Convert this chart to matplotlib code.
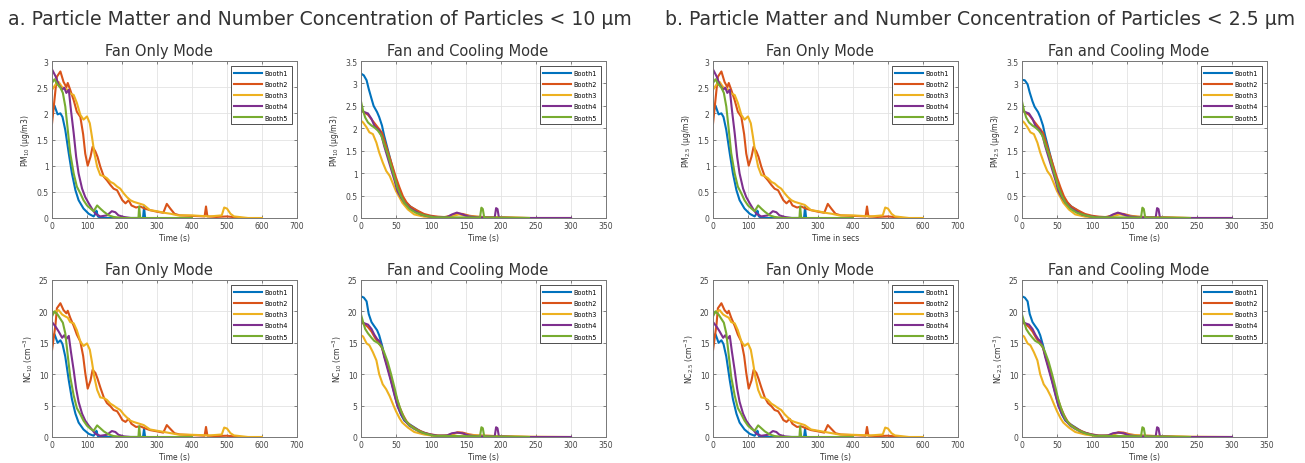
import numpy as np
import matplotlib
matplotlib.use('Agg')
import matplotlib.pyplot as plt
from matplotlib.ticker import FuncFormatter, MultipleLocator

# ===================== data =====================
booths = ['Booth1', 'Booth2', 'Booth3', 'Booth4', 'Booth5']
colors = ['#0072BD', '#D95319', '#EDB120', '#7E2F8E', '#77AC30']

# ---- Fan Only Mode (time in s) ----
fo_t1 = [0, 7, 16, 24, 30, 38, 48, 57, 67, 76, 90, 105, 119, 124, 127, 131, 140, 200, 260, 263, 266, 270]
fo_pm1 = [2.0, 2.15, 1.98, 2.0, 1.93, 1.68, 1.23, 0.85, 0.53, 0.34, 0.18, 0.08, 0.03, 0.08, 0.14, 0.03, 0.0, 0.0, 0.0, 0.21, 0.0, 0.0]
fo_nc1 = [15.3, 16.4, 15.0, 15.4, 14.8, 12.8, 9.0, 6.0, 3.7, 2.3, 1.2, 0.5, 0.2, 0.6, 1.0, 0.15, 0.0, 0.0, 0.0, 1.3, 0.0, 0.0]

fo_t2 = [0, 10, 14, 24, 33, 41, 45, 52, 62, 71, 81, 89, 95, 102, 110, 116, 124, 130, 138, 148,
         157, 167, 176, 186, 193, 201, 210, 219, 227, 240, 252, 265, 280, 300, 318, 328, 338, 350, 365, 400,
         436, 440, 444, 470, 500, 530, 540]
fo_pm2 = [1.8, 2.45, 2.7, 2.8, 2.6, 2.5, 2.58, 2.45, 2.25, 2.03, 1.93, 1.6, 1.23, 1.0, 1.17, 1.36, 1.27, 1.17, 0.98, 0.79,
          0.72, 0.63, 0.56, 0.53, 0.44, 0.34, 0.28, 0.34, 0.24, 0.2, 0.22, 0.18, 0.15, 0.12, 0.1, 0.27, 0.18, 0.08, 0.05, 0.04,
          0.03, 0.22, 0.03, 0.02, 0.03, 0.01, 0.0]
fo_nc2 = [13.8, 17.9, 20.5, 21.3, 20.2, 19.7, 20.1, 19.0, 17.7, 16.3, 15.2, 12.9, 10.2, 7.7, 9.0, 10.7, 10.2, 9.3, 7.9, 6.3,
          5.4, 4.9, 4.3, 4.1, 3.5, 2.7, 2.4, 2.9, 2.1, 1.6, 1.7, 1.4, 1.1, 0.9, 0.7, 1.9, 1.3, 0.6, 0.4, 0.3,
          0.2, 1.6, 0.2, 0.15, 0.2, 0.05, 0.0]

fo_t3 = [0, 10, 19, 29, 38, 45, 52, 62, 71, 81, 90, 100, 108, 114, 121, 129, 138, 148, 157, 167,
         176, 186, 195, 205, 214, 224, 233, 262, 280, 300, 320, 340, 360, 400, 450, 485, 492, 500, 510, 520,
         560, 600]
fo_pm3 = [2.45, 2.55, 2.6, 2.5, 2.47, 2.45, 2.38, 2.35, 2.2, 1.97, 1.88, 1.94, 1.81, 1.56, 1.24, 0.98, 0.82, 0.8, 0.76, 0.69,
          0.66, 0.6, 0.56, 0.47, 0.4, 0.34, 0.31, 0.25, 0.15, 0.13, 0.1, 0.08, 0.05, 0.05, 0.03, 0.05, 0.2, 0.18, 0.08, 0.03,
          0.0, 0.0]
fo_nc3 = [19.5, 20.0, 20.2, 19.5, 19.2, 19.0, 18.3, 18.1, 17.0, 15.2, 14.5, 14.9, 13.9, 12.0, 9.5, 7.5, 6.3, 6.2, 5.9, 5.3,
          5.0, 4.6, 4.3, 3.6, 3.1, 2.6, 2.4, 1.9, 1.2, 1.0, 0.8, 0.6, 0.4, 0.35, 0.25, 0.4, 1.5, 1.35, 0.6, 0.25,
          0.0, 0.0]

fo_t4 = [0, 10, 19, 29, 35, 41, 48, 54, 62, 69, 76, 86, 95, 105, 114, 124, 138, 157, 171, 181, 190, 205, 225, 250]
fo_pm4 = [2.84, 2.71, 2.55, 2.45, 2.49, 2.39, 2.45, 2.07, 1.62, 1.17, 0.85, 0.56, 0.4, 0.28, 0.18, 0.08, 0.03, 0.05, 0.13, 0.11,
          0.05, 0.02, 0.0, 0.0]
fo_nc4 = [18.3, 17.6, 16.8, 15.8, 16.2, 15.6, 16.1, 13.6, 10.6, 7.7, 5.6, 3.7, 2.6, 1.8, 1.2, 0.5, 0.2, 0.35, 0.95, 0.8,
          0.35, 0.1, 0.0, 0.0]

fo_t5 = [0, 7, 16, 24, 31, 38, 45, 52, 62, 71, 81, 90, 100, 110, 119, 129, 138, 148, 162, 176, 200, 247, 249, 252, 400]
fo_pm5 = [2.58, 2.65, 2.55, 2.49, 2.39, 2.13, 1.69, 1.24, 0.85, 0.6, 0.47, 0.34, 0.24, 0.18, 0.13, 0.24, 0.18, 0.12, 0.05, 0.02,
          0.0, 0.0, 0.22, 0.0, 0.0]
fo_nc5 = [19.2, 20.0, 19.5, 18.8, 18.2, 16.5, 13.0, 9.6, 6.6, 4.6, 3.6, 2.6, 1.8, 1.3, 1.0, 1.85, 1.4, 0.9, 0.4, 0.15,
          0.0, 0.0, 1.7, 0.0, 0.0]

# ---- Fan and Cooling Mode ----
fc_t1 = [0, 4, 8, 11, 15, 18, 23, 26, 30, 33, 38, 43, 48, 52, 57, 62, 67, 71, 78, 85, 92, 100, 109, 120, 200]
fc_pm1 = [3.22, 3.18, 3.07, 2.88, 2.66, 2.5, 2.36, 2.25, 2.06, 1.84, 1.54, 1.24, 0.94, 0.72, 0.53, 0.38, 0.31, 0.25, 0.18, 0.1,
          0.06, 0.03, 0.01, 0.0, 0.0]
fc_pm25_1 = [3.08, 3.07, 2.98, 2.8, 2.6, 2.48, 2.36, 2.25, 2.06, 1.84, 1.54, 1.24, 0.94, 0.72, 0.53, 0.38, 0.31, 0.25, 0.18, 0.1,
             0.06, 0.03, 0.01, 0.0, 0.0]
fc_nc1 = [22.4, 22.2, 21.6, 19.6, 18.3, 17.8, 17.0, 16.2, 14.6, 13.2, 11.2, 9.0, 6.8, 5.0, 3.6, 2.6, 2.2, 1.9, 1.4, 0.9,
          0.6, 0.3, 0.1, 0.0, 0.0]

fc_t2 = [0, 5, 10, 15, 20, 25, 30, 35, 40, 45, 50, 55, 60, 65, 70, 80, 90, 100, 110, 120,
         130, 138, 145, 155, 165, 180, 200, 240]
fc_pm2 = [2.4, 2.35, 2.3, 2.2, 2.1, 2.0, 1.9, 1.65, 1.4, 1.15, 0.9, 0.68, 0.48, 0.35, 0.26, 0.17, 0.09, 0.05, 0.03, 0.02,
          0.06, 0.1, 0.09, 0.05, 0.03, 0.02, 0.01, 0.0]
fc_nc2 = [18.2, 18.0, 17.5, 16.8, 15.8, 15.0, 14.2, 12.3, 10.4, 8.4, 6.5, 4.8, 3.5, 2.5, 1.9, 1.2, 0.7, 0.4, 0.25, 0.2,
          0.45, 0.75, 0.7, 0.4, 0.25, 0.2, 0.1, 0.0]

fc_t3 = [0, 3, 8, 12, 17, 22, 26, 31, 36, 41, 45, 50, 55, 59, 67, 76, 90, 109, 125, 140, 150, 170, 200, 240, 300]
fc_pm3 = [2.17, 2.13, 2.02, 1.91, 1.87, 1.68, 1.46, 1.24, 1.05, 0.94, 0.79, 0.6, 0.46, 0.34, 0.19, 0.08, 0.03, 0.01, 0.03, 0.08,
          0.05, 0.02, 0.02, 0.0, 0.0]
fc_nc3 = [16.2, 16.0, 14.9, 14.6, 13.5, 12.2, 10.0, 8.4, 7.6, 6.5, 5.4, 4.1, 3.0, 2.3, 1.5, 0.8, 0.4, 0.1, 0.3, 0.7,
          0.4, 0.2, 0.15, 0.05, 0.0]

fc_t4 = [0, 5, 10, 15, 19, 23, 26, 30, 33, 38, 43, 48, 52, 57, 62, 69, 76, 85, 95, 109,
         123, 130, 137, 145, 152, 166, 191, 193, 195, 197, 220, 300]
fc_pm4 = [2.4, 2.36, 2.33, 2.21, 2.06, 1.99, 1.95, 1.8, 1.61, 1.35, 1.09, 0.83, 0.6, 0.46, 0.34, 0.23, 0.16, 0.08, 0.04, 0.015,
          0.02, 0.08, 0.12, 0.08, 0.04, 0.015, 0.01, 0.22, 0.2, 0.01, 0.0, 0.0]
fc_nc4 = [18.4, 18.1, 17.9, 17.2, 16.3, 15.6, 15.3, 14.3, 12.8, 10.8, 8.8, 6.6, 5.0, 3.7, 2.7, 1.8, 1.3, 0.8, 0.5, 0.2,
          0.25, 0.6, 0.7, 0.6, 0.3, 0.1, 0.1, 1.55, 1.4, 0.1, 0.0, 0.0]

fc_t5 = [0, 3, 6, 10, 15, 19, 24, 29, 33, 38, 43, 48, 52, 57, 62, 69, 78, 90, 104, 170, 172, 174, 176, 240]
fc_pm5 = [2.6, 2.39, 2.24, 2.13, 2.06, 2.02, 1.95, 1.84, 1.65, 1.43, 1.16, 0.9, 0.68, 0.49, 0.34, 0.21, 0.12, 0.06, 0.015, 0.01,
          0.23, 0.2, 0.01, 0.0]
fc_nc5 = [19.5, 18.3, 17.2, 16.5, 15.8, 15.3, 15.0, 14.5, 13.5, 12.0, 10.0, 7.8, 5.9, 4.2, 2.9, 1.9, 1.2, 0.6, 0.2, 0.1,
          1.55, 1.4, 0.1, 0.0]

fo_times = [fo_t1, fo_t2, fo_t3, fo_t4, fo_t5]
fc_times = [fc_t1, fc_t2, fc_t3, fc_t4, fc_t5]


# ===================== helpers =====================
def fmt_g(v, pos):
    return '%g' % v


def draw_panel(rect, times, series, title, ylabel, xlabel, xmax, xstep, ymax, ystep):
    ax = fig.add_axes(rect)
    for t, y, c, name in zip(times, series, colors, booths):
        ax.plot(t, y, color=c, lw=1.5, label=name)
    ax.set_xlim(0, xmax)
    ax.set_ylim(0, ymax)
    ax.xaxis.set_major_locator(MultipleLocator(xstep))
    ax.yaxis.set_major_locator(MultipleLocator(ystep))
    ax.xaxis.set_major_formatter(FuncFormatter(fmt_g))
    ax.yaxis.set_major_formatter(FuncFormatter(fmt_g))
    ax.grid(True, color='#e3e3e3', lw=0.6)
    ax.set_axisbelow(True)
    ax.tick_params(direction='in', top=True, right=True, length=2.5, width=0.5,
                   labelsize=5.5, colors='#555555', labelcolor='#444444', pad=2.5)
    for s in ax.spines.values():
        s.set_color('#777777')
        s.set_linewidth(0.7)
    ax.set_title(title, fontsize=10.5, color='#333333', x=0.435, pad=4)
    ax.set_ylabel(ylabel, fontsize=5.5, color='#333333', labelpad=3)
    ax.set_xlabel(xlabel, fontsize=5.5, color='#333333', labelpad=2)
    leg = ax.legend(loc='upper right', fontsize=4.7, handlelength=4.2, handletextpad=0.5,
                    labelspacing=0.8, borderpad=0.55, fancybox=False, framealpha=1,
                    borderaxespad=0.8)
    leg.get_frame().set_edgecolor('#333333')
    leg.get_frame().set_linewidth(0.6)
    return ax


# ===================== figure =====================
W, H = 1305, 464
fig = plt.figure(figsize=(W / 100, H / 100), dpi=100)


def rect_px(x0, y0, w, h):
    return [x0 / W, 1 - (y0 + h) / H, w / W, h / H]


cols = [52, 361, 713, 1022]
rows = [62, 281]
pw, ph = 245, 157

# a. < 10 um
draw_panel(rect_px(cols[0], rows[0], pw, ph), fo_times, [fo_pm1, fo_pm2, fo_pm3, fo_pm4, fo_pm5],
           'Fan Only Mode', 'PM$_{10}$ (μg/m3)', 'Time (s)', 700, 100, 3, 0.5)
draw_panel(rect_px(cols[1], rows[0], pw, ph), fc_times, [fc_pm1, fc_pm2, fc_pm3, fc_pm4, fc_pm5],
           'Fan and Cooling Mode', 'PM$_{10}$ (μg/m3)', 'Time (s)', 350, 50, 3.5, 0.5)
draw_panel(rect_px(cols[0], rows[1], pw, ph), fo_times, [fo_nc1, fo_nc2, fo_nc3, fo_nc4, fo_nc5],
           'Fan Only Mode', 'NC$_{10}$ (cm$^{-3}$)', 'Time (s)', 700, 100, 25, 5)
draw_panel(rect_px(cols[1], rows[1], pw, ph), fc_times, [fc_nc1, fc_nc2, fc_nc3, fc_nc4, fc_nc5],
           'Fan and Cooling Mode', 'NC$_{10}$ (cm$^{-3}$)', 'Time (s)', 350, 50, 25, 5)

# b. < 2.5 um
draw_panel(rect_px(cols[2], rows[0], pw, ph), fo_times, [fo_pm1, fo_pm2, fo_pm3, fo_pm4, fo_pm5],
           'Fan Only Mode', 'PM$_{2.5}$ (μg/m3)', 'Time in secs', 700, 100, 3, 0.5)
draw_panel(rect_px(cols[3], rows[0], pw, ph), fc_times, [fc_pm25_1, fc_pm2, fc_pm3, fc_pm4, fc_pm5],
           'Fan and Cooling Mode', 'PM$_{2.5}$ (μg/m3)', 'Time (s)', 350, 50, 3.5, 0.5)
draw_panel(rect_px(cols[2], rows[1], pw, ph), fo_times, [fo_nc1, fo_nc2, fo_nc3, fo_nc4, fo_nc5],
           'Fan Only Mode', 'NC$_{2.5}$ (cm$^{-3}$)', 'Time (s)', 700, 100, 25, 5)
draw_panel(rect_px(cols[3], rows[1], pw, ph), fc_times, [fc_nc1, fc_nc2, fc_nc3, fc_nc4, fc_nc5],
           'Fan and Cooling Mode', 'NC$_{2.5}$ (cm$^{-3}$)', 'Time (s)', 350, 50, 25, 5)

fig.text(8 / W, 1 - 25 / H, 'a. Particle Matter and Number Concentration of Particles < 10 μm',
         fontsize=13.6, color='#333333', va='baseline')
fig.text(665 / W, 1 - 25 / H, 'b. Particle Matter and Number Concentration of Particles < 2.5 μm',
         fontsize=13.6, color='#333333', va='baseline')

fig.savefig('out.png', dpi=100)
